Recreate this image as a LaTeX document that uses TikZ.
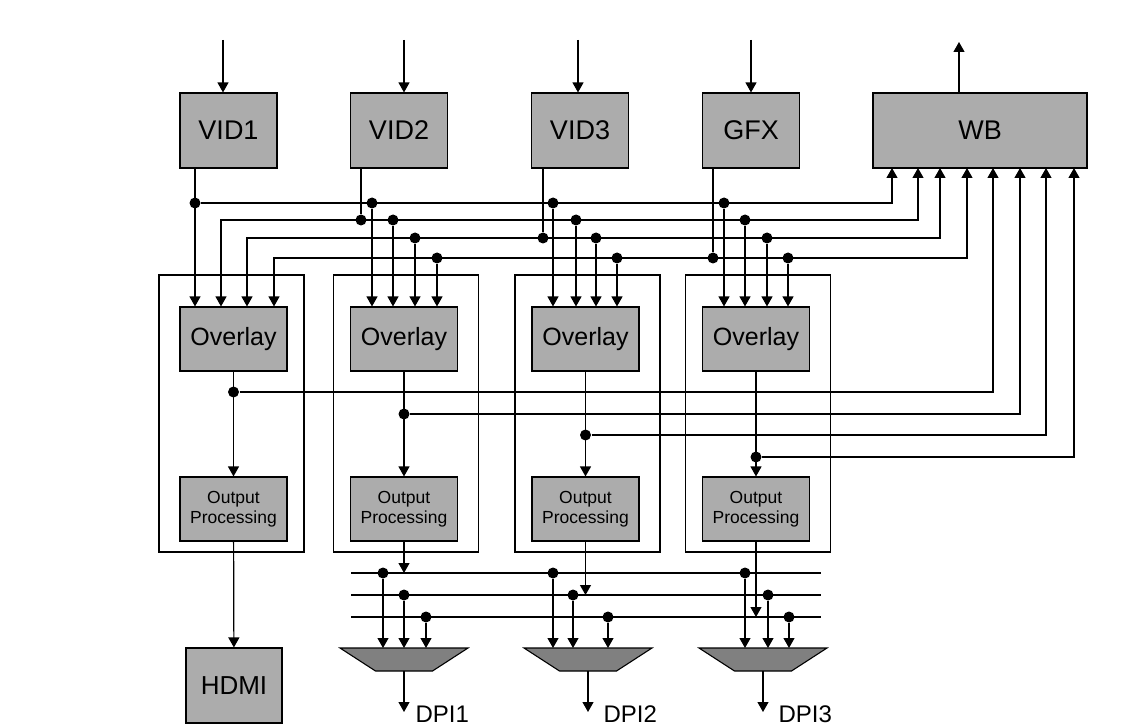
\documentclass[tikz,border=0pt]{standalone}
\usepackage{fontspec}
\setmainfont{Liberation Sans}
\usetikzlibrary{arrows.meta, positioning}

\tikzset{
  blk/.style={draw, fill=gray!65, line width=1.1pt, inner sep=0pt, align=center,
    minimum width=97pt, minimum height=75pt, font=\fontsize{27}{32}\selectfont},
  ovl/.style={blk, minimum width=107pt, minimum height=64pt, font=\fontsize{25}{30}\selectfont},
  outp/.style={ovl, font=\fontsize{17.5}{21}\selectfont},
  frame/.style={draw, line width=1.1pt, minimum width=145pt, minimum height=277pt},
  dot/.style={circle, fill, inner sep=0pt, minimum size=11pt},
  muxbody/.style={draw, fill=gray, line width=1.1pt, line join=miter},
  lbl/.style={inner sep=0pt, font=\fontsize{24}{28}\selectfont},
}

\begin{document}
\begin{tikzpicture}[x=1pt, y=-1pt, line width=1.2pt, >={Triangle[length=10pt,width=11pt]}]
  \useasboundingbox (0,0) rectangle (1146,727);

  \node (vid1) [blk] at (228.5,130.5) {VID1};
  \node (vid2) [blk] at (399,130.5) {VID2};
  \node (vid3) [blk] at (580,130.5) {VID3};
  \node (gfx) [blk] at (751,130.5) {GFX};
  \node (wb) [blk, minimum width=214pt] at (980,130.5) {WB};

  \foreach \i/\x in {1/231.5, 2/406, 3/587.5, 4/758}
    \node (fr\i) [frame] at (\x,413.5) {};
  \foreach \i/\x in {1/233.5, 2/404, 3/585.5, 4/756} {
    \node (ov\i) [ovl] at (\x,339) {Overlay};
    \node (op\i) [outp] at (\x,509) {\raisebox{-3pt}{\shortstack{Output\\[1pt]Processing}}};
  }

  \node (hdmi) [blk, minimum width=96pt, font=\fontsize{26}{30}\selectfont] at (234,685.5) {HDMI};

  % muxes
  \foreach \m/\x in {1/404, 2/588, 3/763} {
    \coordinate (mux\m) at (\x,659.5);
    \path (mux\m) ++(0,-11.5) coordinate (mt\m) ++(0,23) coordinate (mb\m);
    \draw[muxbody] (mt\m) ++(-64,0) -- ++(128,0) -- ++(-35.5,23) -- ++(-57,0) -- cycle;
  }

  % inputs and write-back output
  \foreach \n/\x in {vid1/223, vid2/404, vid3/578, gfx/751} {
    \coordinate (\n-top) at (\x,40);
    \draw[->] (\n-top) -- (\n-top |- \n.north);
  }
  \coordinate (wb-top) at (959,42);
  \draw[->] (wb-top |- wb.north) -- (wb-top);

  \foreach \i/\x in {1/892, 2/918, 3/940, 4/967, 5/993, 6/1020, 7/1046, 8/1074}
    \coordinate (w\i) at (\x,168);

  % upper buses
  \node (s1) [dot] at (195,203) {};
  \node (s2) [dot] at (361,220) {};
  \node (s3) [dot] at (543,238) {};
  \node (s4) [dot] at (713,258) {};
  \draw[->] (vid1.south -| s1) -- (s1 |- ov1.north);
  \draw (vid2.south -| s2) -- (s2);
  \draw (vid3.south -| s3) -- (s3);
  \draw (gfx.south -| s4) -- (s4);

  \coordinate (b2) at (221,220);
  \coordinate (b3) at (247,238);
  \coordinate (b4) at (274,258);
  \draw[->] (s1) -| (w1);
  \draw[<->] (b2 |- ov1.north) -- (b2) -| (w2);
  \draw[<->] (b3 |- ov1.north) -- (b3) -| (w3);
  \draw[<->] (b4 |- ov1.north) -- (b4) -| (w4);

  \foreach \x/\y in {372/203, 553/203, 724/203, 393/220, 576/220, 745/220,
                     415/238, 596/238, 767/238, 437/258, 617/258, 788/258} {
    \node (t\x) [dot] at (\x,\y) {};
    \draw[->] (t\x) -- (t\x |- ov1.north);
  }

  % lower buses back to WB
  \foreach \i/\y/\w in {1/392/5, 2/414/6, 3/435/7, 4/457/8} {
    \draw[->] (ov\i) -- (op\i);
    \node (o\i) [dot] at (ov\i.south |- 0,\y) {};
    \draw[->] (o\i) -| (w\w);
  }

  % outputs
  \draw[->] (op1) -- (hdmi);
  \foreach \b/\y in {a/573, b/595, c/617} {
    \coordinate (l\b) at (351,\y);
    \coordinate (r\b) at (821,\y);
    \draw (l\b) -- (r\b);
  }
  \draw[->] (op2) -- (op2 |- la);
  \draw[->] (op3) -- (op3 |- lb);
  \draw[->] (op4) -- (op4 |- lc);

  \foreach \m/\x/\b in {1/383/a, 1/404/b, 1/426/c, 2/553/a, 2/573/b, 2/608/c,
                        3/745/a, 3/768/b, 3/789/c} {
    \node (d\x) [dot] at (l\b -| \x,0) {};
    \draw[->] (d\x) -- (d\x |- mt\m);
  }

  \coordinate (dp1) at (404,712);
  \coordinate (dp2) at (588,712);
  \coordinate (dp3) at (763,712);
  \draw[->] (mb1) -- (dp1);
  \draw[->] (mb2) -- (dp2);
  \draw[->] (mb3) -- (dp3);
  \node (dpi1) [lbl, right=11pt of dp1, yshift=-2pt] {DPI1};
  \node (dpi2) [lbl, right=15pt of dp2, yshift=-2pt] {DPI2};
  \node (dpi3) [lbl, right=15pt of dp3, yshift=-2pt] {DPI3};
\end{tikzpicture}
\end{document}
